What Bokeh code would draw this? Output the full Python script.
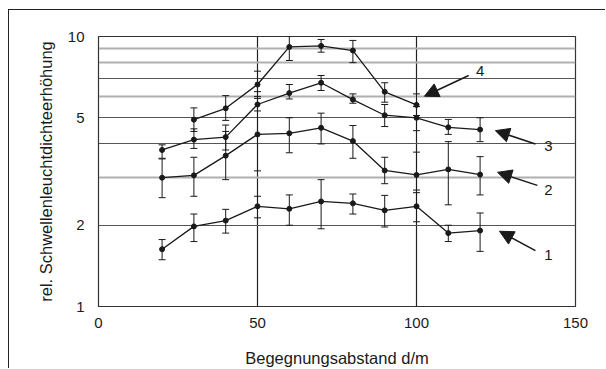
from bokeh.plotting import figure
from bokeh.models import (Range1d, FixedTicker, PrintfTickFormatter, Grid, Whisker,
                          ColumnDataSource, Arrow, NormalHead, Label)
from bokeh.embed import file_html
from bokeh.resources import INLINE

# ---- data ----
d_all = [20, 30, 40, 50, 60, 70, 80, 90, 100, 110, 120]
d_s4 = [30, 40, 50, 60, 70, 80, 90, 100]

s1 = [1.63, 1.98, 2.08, 2.35, 2.30, 2.45, 2.41, 2.27, 2.35, 1.87, 1.91]
s1_hi = [1.77, 2.20, 2.29, 2.56, 2.59, 2.95, 2.61, 2.58, 2.64, 2.00, 2.22]
s1_lo = [1.49, 1.74, 1.87, 2.13, 2.00, 1.94, 2.20, 1.97, 2.06, 1.74, 1.60]

s2 = [3.00, 3.06, 3.62, 4.34, 4.38, 4.59, 4.10, 3.19, 3.07, 3.22, 3.08]
s2_hi = [3.52, 3.57, 4.45, 5.90, 5.00, 5.20, 4.68, 3.57, 3.73, 4.08, 3.59]
s2_lo = [2.53, 2.56, 2.95, 3.18, 3.71, 4.00, 3.54, 2.85, 2.70, 2.38, 2.59]

s3 = [3.80, 4.15, 4.24, 5.60, 6.17, 6.74, 5.84, 5.11, 5.00, 4.61, 4.52]
s3_hi = [3.97, 4.55, 4.70, 6.25, 6.64, 7.17, 6.13, 5.60, 5.50, 4.93, 5.00]
s3_lo = [3.54, 3.85, 3.80, 5.30, 5.87, 6.31, 5.66, 4.64, 4.48, 4.34, 4.08]

s4 = [4.92, 5.42, 6.64, 9.15, 9.23, 8.87, 6.24, 5.58]
s4_hi = [5.44, 6.04, 7.44, 10.0, 9.75, 9.67, 6.74, 6.13]
s4_lo = [4.45, 4.89, 6.00, 8.15, 8.75, 8.00, 5.71, 5.10]

x_ticks = [0, 50, 100, 150]
y_ticks = [1, 2, 5, 10]
grid_dark = [2, 4, 5, 7, 10]
grid_light = [3, 6, 8, 9]
series_names = ["1", "2", "3", "4"]
x_title = "Begegnungsabstand d/m"
y_title = "rel. Schwellenleuchtdichteerhöhung"

FONT = "Liberation Sans"
INK = "#1a1a1a"

p = figure(width=597, height=359, output_backend="svg", toolbar_location=None,
           x_range=Range1d(0, 150), y_range=Range1d(1, 10), y_axis_type="log",
           min_border_left=89, min_border_top=26, min_border_right=31, min_border_bottom=63)
p.margin = (9, 0, 0, 8)
p.styles = {"border-top": "1.5px solid #222222", "border-left": "1.5px solid #222222"}

p.background_fill_color = "white"
p.border_fill_color = "white"
p.outline_line_color = "#333333"
p.outline_line_width = 1.2

# axes
for ax in (p.xaxis[0], p.yaxis[0]):
    ax.axis_line_color = "#333333"
    ax.major_tick_line_color = None
    ax.minor_tick_line_color = None
    ax.major_label_text_font = FONT
    ax.major_label_text_font_size = "15px"
    ax.major_label_text_color = INK
    ax.axis_label_text_font = FONT
    ax.axis_label_text_font_size = "16.5px"
    ax.axis_label_text_font_style = "normal"
    ax.axis_label_text_color = INK

p.xaxis.ticker = FixedTicker(ticks=x_ticks)
p.xaxis.major_label_standoff = 5
p.xaxis.axis_label = x_title
p.xaxis.axis_label_standoff = 18

p.yaxis.ticker = FixedTicker(ticks=y_ticks)
p.yaxis.formatter = PrintfTickFormatter(format="%d")
p.yaxis.major_label_standoff = 8
p.yaxis.axis_label = y_title
p.yaxis.axis_label_standoff = 10

# grids
p.xgrid.ticker = FixedTicker(ticks=[50, 100])
p.xgrid.grid_line_color = "#222222"
p.xgrid.grid_line_width = 1.2
p.ygrid.ticker = FixedTicker(ticks=grid_dark)
p.ygrid.grid_line_color = "#555555"
p.ygrid.grid_line_width = 1
light = Grid(dimension=1, ticker=FixedTicker(ticks=grid_light),
             grid_line_color="#b0b0b0", grid_line_width=2)
p.add_layout(light)

# series
def draw(xs, ys, lo, hi):
    src = ColumnDataSource(dict(x=xs, y=ys, lo=lo, hi=hi))
    w = Whisker(source=src, base="x", upper="hi", lower="lo", line_color=INK, line_width=1)
    w.upper_head.size = 7
    w.lower_head.size = 7
    w.upper_head.line_color = INK
    w.lower_head.line_color = INK
    p.add_layout(w)
    p.line("x", "y", source=src, line_color=INK, line_width=1.3)
    p.scatter("x", "y", source=src, size=5, marker="circle", fill_color=INK, line_color=INK)

draw(d_all, s1, s1_lo, s1_hi)
draw(d_all, s2, s2_lo, s2_hi)
draw(d_all, s3, s3_lo, s3_hi)
draw(d_s4, s4, s4_lo, s4_hi)

# arrow annotations (start x, start y, end x, end y, label x, label y)
arrows = [
    (137.4, 1.61, 126.1, 1.90, 141.5, 1.545),
    (138.0, 2.81, 125.5, 3.14, 141.5, 2.69),
    (137.4, 4.00, 124.8, 4.48, 141.5, 3.92),
    (116.4, 7.17, 102.5, 6.01, 120.0, 7.42),
]
for name, (xs_, ys_, xe, ye, lx, ly) in zip(series_names, arrows):
    p.add_layout(Arrow(end=NormalHead(size=14, fill_color=INK, line_color=INK),
                       x_start=xs_, y_start=ys_, x_end=xe, y_end=ye,
                       line_color=INK, line_width=1.5))
    p.add_layout(Label(x=lx, y=ly, text=name, text_align="center", text_baseline="middle",
                       text_font=FONT, text_font_size="15px", text_color=INK))

open("out.html", "w").write(file_html(p, INLINE))
